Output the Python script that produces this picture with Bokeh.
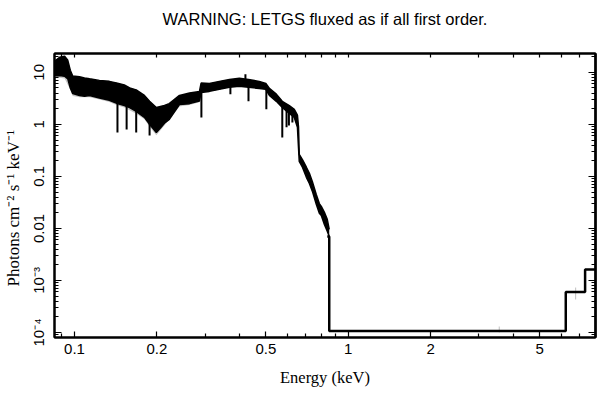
from bokeh.plotting import figure
from bokeh.models import LogAxis, FixedTicker, Range1d
from bokeh.embed import file_html
from bokeh.resources import INLINE

# ---- data ----
band_energy = [0.0845, 0.0882, 0.0920, 0.0945, 0.0965, 0.0985, 0.1043, 0.1088, 0.1135, 0.1233,
               0.134, 0.1435, 0.152, 0.159, 0.168, 0.180, 0.188, 0.199, 0.206, 0.213,
               0.222, 0.2417, 0.263, 0.286, 0.290, 0.311, 0.338, 0.368, 0.40, 0.432,
               0.473, 0.500, 0.506, 0.515, 0.546, 0.574, 0.609, 0.635, 0.652, 0.658,
               0.662, 0.680, 0.703, 0.721, 0.739, 0.764, 0.784, 0.797, 0.818, 0.838, 0.852]
band_low = [8.6, 8.7, 8.4, 7.5, 5.0, 3.9, 3.6, 3.45, 3.6, 3.2,
            2.9, 2.5, 2.3, 2.1, 1.78, 1.36, 1.0, 0.70, 0.85, 1.05,
            1.25, 2.4, 2.5, 2.8, 4.1, 4.3, 4.7, 5.15, 5.4, 5.15,
            4.9, 4.7, 4.2, 3.6, 2.77, 2.12, 1.63, 1.36, 0.88, 0.35,
            0.195, 0.15, 0.096, 0.073, 0.052, 0.029, 0.0195, 0.0177, 0.0119, 0.0088, 0.0070]
band_high = [16.3, 19.4, 20.3, 17.0, 11.0, 8.5, 8.2, 7.8, 7.5, 7.0,
             6.7, 6.2, 5.7, 5.0, 4.6, 3.6, 2.77, 2.1, 2.2, 2.3,
             2.5, 3.6, 4.0, 4.3, 6.2, 6.1, 6.7, 7.3, 7.7, 7.3,
             6.7, 6.1, 5.6, 4.9, 3.8, 2.77, 2.3, 1.94, 1.5, 0.9,
             0.265, 0.21, 0.15, 0.115, 0.080, 0.045, 0.030, 0.0265, 0.0203, 0.0149, 0.0096]

gray_energy = [0.0845, 0.0882, 0.0920, 0.0965, 0.0985, 0.1043, 0.1135, 0.1233, 0.134, 0.1435,
               0.152, 0.168, 0.180, 0.188, 0.199, 0.213, 0.2417, 0.263, 0.286]
gray_low = [8.0, 7.9, 7.6, 4.6, 3.5, 3.3, 3.3, 3.0, 2.7, 2.3,
            2.1, 1.6, 1.25, 0.9, 0.62, 0.95, 2.2, 2.35, 2.65]
gray_high = [16.3, 19.4, 20.3, 11.0, 8.5, 8.2, 7.5, 7.0, 6.7, 6.2,
             5.7, 4.6, 3.6, 2.77, 2.1, 2.3, 3.6, 4.0, 4.3]

dip_energy = [0.1435, 0.155, 0.168, 0.188, 0.2907, 0.371, 0.432, 0.502, 0.574, 0.595, 0.607, 0.625, 0.421]
dip_top = [3.0, 2.5, 2.0, 1.4, 4.5, 5.5, 5.5, 4.8, 2.3, 2.0, 1.8, 1.6, 7.0]
dip_bottom = [0.70, 0.80, 0.70, 0.61, 1.36, 3.78, 2.77, 1.94, 0.56, 0.876, 0.95, 1.09, 9.15]

tail_energy = [0.838, 0.852, 6.23, 7.33, 8.0]
tail_flux = [0.0070, 1.07e-4, 5.96e-4, 1.63e-3, 1.63e-3]

err_energy = [3.56, 6.77]
err_low = [1.0e-4, 4.3e-4]
err_high = [1.3e-4, 7.3e-4]

x_ticks = [0.1, 0.2, 0.5, 1, 2, 5]
x_tick_labels = ["0.1", "0.2", "0.5", "1", "2", "5"]
x_minor = [0.09, 0.3, 0.4, 0.6, 0.7, 0.8, 0.9, 3, 4, 6, 7, 8]
y_ticks = [1e-4, 1e-3, 0.01, 0.1, 1, 10]
y_tick_labels = ["10⁻⁴", "10⁻³", "0.01", "0.1", "1", "10"]
y_minor = [m * 10.0 ** e for e in range(-5, 2) for m in range(2, 10)]

title_text = "WARNING: LETGS fluxed as if all first order."
x_label = "Energy (keV)"
y_label = "Photons cm⁻² s⁻¹ keV⁻¹\u2003\u2002"

# ---- figure ----
p = figure(frame_width=541, frame_height=284, x_axis_type="log", y_axis_type="log",
           x_range=Range1d(0.0845, 8.0), y_range=Range1d(8.0e-5, 23.0),
           output_backend="svg", toolbar_location=None,
           min_border_left=47, min_border_right=2, min_border_top=53, min_border_bottom=40)

p.xgrid.visible = False
p.ygrid.visible = False
p.outline_line_color = "black"
p.outline_line_width = 2
p.background_fill_color = "white"
p.border_fill_color = "white"


def style(ax, ticker, major_len, minor_len):
    ax.ticker = ticker
    ax.major_tick_in = major_len
    ax.major_tick_out = 0
    ax.minor_tick_in = minor_len
    ax.minor_tick_out = 0
    ax.axis_line_color = "black"
    ax.axis_line_width = 2
    ax.major_tick_line_color = "black"
    ax.minor_tick_line_color = "black"
    ax.major_tick_line_width = 1.2
    ax.minor_tick_line_width = 1.2
    ax.major_label_text_font = "Liberation Sans"
    ax.major_label_text_font_size = "15px"
    ax.major_label_text_color = "black"
    ax.axis_label_text_color = "black"
    ax.axis_label_text_font_style = "normal"


xax = p.xaxis[0]
style(xax, FixedTicker(ticks=x_ticks, minor_ticks=x_minor), 6, 4)
xax.major_label_overrides = dict(zip(x_ticks, x_tick_labels))
xax.major_label_standoff = 6
xax.axis_label = x_label
xax.axis_label_text_font = "Liberation Serif"
xax.axis_label_text_font_size = "16.5px"
xax.axis_label_standoff = 11

yax = p.yaxis[0]
style(yax, FixedTicker(ticks=y_ticks, minor_ticks=y_minor), 7, 4)
yax.major_label_overrides = dict(zip(y_ticks, y_tick_labels))
yax.major_label_orientation = "vertical"
yax.major_label_standoff = 7
yax.axis_label = y_label
yax.axis_label_text_font = "Liberation Serif"
yax.axis_label_text_font_size = "17px"
yax.axis_label_standoff = 5

# top axis: ticks only (as minor ticks, so no tick labels); it carries the title text
top = LogAxis()
style(top, FixedTicker(ticks=[], minor_ticks=x_ticks + x_minor), 5, 4)
top.axis_label = title_text
top.axis_label_text_font = "Liberation Sans"
top.axis_label_text_font_size = "16.5px"
top.axis_label_standoff = 26
p.add_layout(top, "above")

right = LogAxis()
style(right, FixedTicker(ticks=[], minor_ticks=y_minor), 4, 4)
p.add_layout(right, "right")

right_major = LogAxis()
style(right_major, FixedTicker(ticks=[], minor_ticks=y_ticks), 7, 7)
p.add_layout(right_major, "right")

# ---- data glyphs ----
p.varea(x=gray_energy, y1=gray_low, y2=gray_high, color="#c4c4c4")
p.varea(x=band_energy, y1=band_low, y2=band_high, color="black")
p.line(band_energy, band_low, line_color="black", line_width=1.5)
p.line(band_energy, band_high, line_color="black", line_width=1.5)
p.segment(x0=dip_energy, y0=dip_top, x1=dip_energy, y1=dip_bottom, line_color="black", line_width=2)
p.segment(x0=err_energy, y0=err_low, x1=err_energy, y1=err_high, line_color="#c0c0c0", line_width=1)
p.step(tail_energy, tail_flux, mode="after", line_color="black", line_width=2.5)

open("out.html", "w").write(file_html(p, INLINE))
